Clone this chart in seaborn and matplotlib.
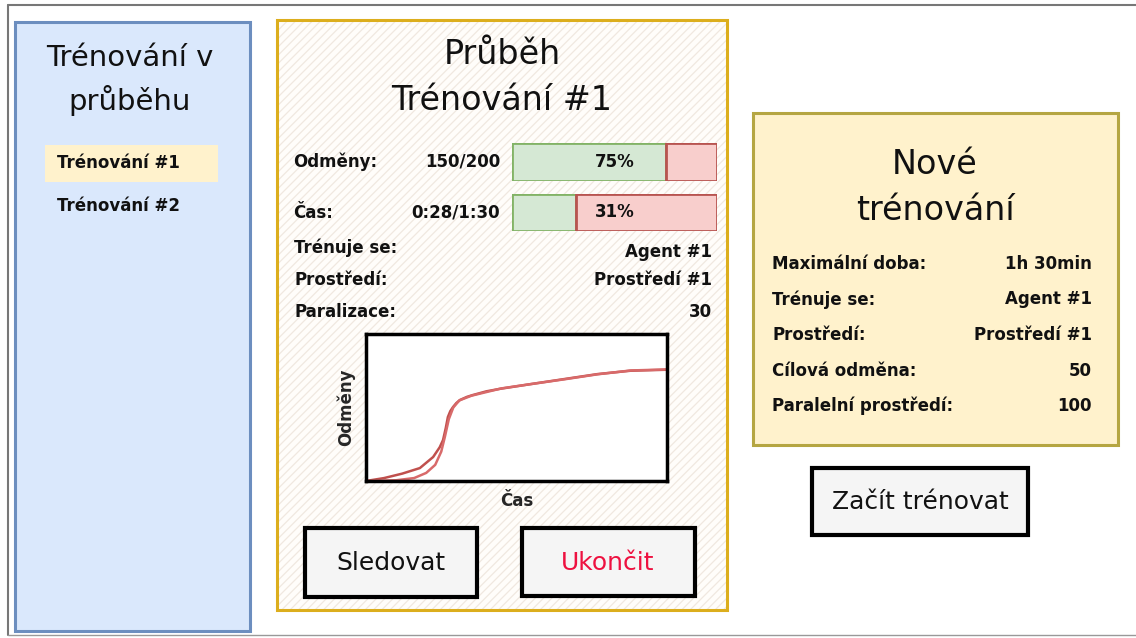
"""
Mockup of the training dashboard (running trainings / progress / new training).
Drawn on a pixel-sized canvas, the reward curve is a seaborn lineplot.
"""
import matplotlib
matplotlib.use("Agg")
import matplotlib.pyplot as plt
from matplotlib.patches import Rectangle
import pandas as pd
import seaborn as sns

W, H = 1136, 638

# --- data read from the mockup ---
running_trainings = ["Trénování #1", "Trénování #2"]
selected_training = "Trénování #1"

progress_labels = ["Odměny:", "Čas:"]
progress_values = ["150/200", "0:28/1:30"]
progress_pct = [75, 31]

run_fields = ["Trénuje se:", "Prostředí:", "Paralizace:"]
run_values = ["Agent #1", "Prostředí #1", "30"]

new_fields = ["Maximální doba:", "Trénuje se:", "Prostředí:", "Cílová odměna:", "Paralelní prostředí:"]
new_values = ["1h 30min", "Agent #1", "Prostředí #1", "50", "100"]

# reward curve (normalised time / reward), two sketchy strokes
curve_time = [0.0, 0.06, 0.12, 0.179, 0.223, 0.245, 0.256, 0.265, 0.272, 0.28, 0.289,
              0.30, 0.312, 0.335, 0.355, 0.40, 0.445, 0.547, 0.657, 0.768, 0.878, 1.0]
curve_reward = [0.0, 0.02, 0.05, 0.088, 0.163, 0.23, 0.279, 0.36, 0.435, 0.475, 0.503,
                0.53, 0.551, 0.572, 0.585, 0.61, 0.627, 0.659, 0.693, 0.727, 0.750, 0.757]
sketch_time = [0.0, 0.10, 0.16, 0.20, 0.23, 0.25, 0.262, 0.275, 0.29, 0.31, 0.35,
               0.45, 0.55, 0.66, 0.77, 0.88, 1.0]
sketch_reward = [0.0, 0.005, 0.02, 0.055, 0.11, 0.20, 0.30, 0.42, 0.50, 0.548, 0.58,
                 0.63, 0.66, 0.692, 0.726, 0.752, 0.759]

sns.set_theme(style="white")
plt.rcParams["font.family"] = ["DejaVu Sans"]
plt.rcParams["hatch.linewidth"] = 0.9

fig = plt.figure(figsize=(W / 100, H / 100), dpi=100)
fig.patch.set_facecolor("white")
bg = fig.add_axes([0, 0, 1, 1])
bg.set_xlim(0, W)
bg.set_ylim(H, 0)
bg.axis("off")


def px_rect(x0, y0, x1, y1):
    """pixel box -> figure fraction rect"""
    return [x0 / W, 1 - y1 / H, (x1 - x0) / W, (y1 - y0) / H]


def box(x0, y0, x1, y1, face, edge, lw=2.0, z=1):
    bg.add_patch(Rectangle((x0, y0), x1 - x0, y1 - y0, facecolor=face,
                           edgecolor=edge, linewidth=lw, zorder=z))


SMALL = dict(fontsize=12, fontweight="bold", color="#111111", va="center")

# outer frame
bg.plot([8, W], [5, 5], color="#777777", lw=1.5)
bg.plot([8, 8], [5, 635], color="#777777", lw=1.5)
bg.plot([8, W], [635, 635], color="#999999", lw=1.0)

# ---- left panel: running trainings ----
box(15, 22, 250, 631, "#dae8fc", "#6c8ebf", lw=2.2)
bg.text(130, 80, "Trénování v\nprůběhu", fontsize=21, ha="center", va="center",
        linespacing=1.5, color="#111111")
for i, name in enumerate(running_trainings):
    y = 163 + i * 43
    if name == selected_training:
        bg.add_patch(Rectangle((45, 145), 173, 37, facecolor="#fff2cc",
                               edgecolor="none", zorder=2))
    bg.text(57, y, name, ha="left", zorder=3, **SMALL)

# ---- centre panel: progress of training #1 ----
box(277, 20, 727, 610, "#fffdfa", "none", lw=0)
bg.add_patch(Rectangle((277, 20), 450, 590, facecolor="none", edgecolor="#f0e8e0",
                       linewidth=0, hatch="////", zorder=1.5))
box(277, 20, 727, 610, "none", "#dcae1d", lw=2.2, z=2)
bg.text(502, 78, "Průběh\nTrénování #1", fontsize=24, ha="center", va="center",
        linespacing=1.5, color="#111111", zorder=3)

bar_rows = [(143, 181), (194, 231)]
for (label, value, pct, (y0, y1)) in zip(progress_labels, progress_values, progress_pct, bar_rows):
    ym = (y0 + y1) / 2
    bg.text(293, ym, label, ha="left", zorder=3, **SMALL)
    bg.text(500, ym, value, ha="right", zorder=3, **SMALL)
    ax = fig.add_axes(px_rect(512, y0, 717, y1))
    ax.barh([0], [pct], height=1, color="#d5e8d4", edgecolor="#82b366", linewidth=2)
    ax.barh([0], [100 - pct], left=[pct], height=1, color="#f8cecc",
            edgecolor="#b85450", linewidth=2)
    ax.set_xlim(0, 100)
    ax.set_ylim(-0.5, 0.5)
    ax.axis("off")
    ax.text(50, 0, f"{pct}%", ha="center", va="center", fontsize=12,
            fontweight="bold", color="#111111")

for i, (field, value) in enumerate(zip(run_fields, run_values)):
    y = 248 + i * 32
    bg.text(294, y, field, ha="left", zorder=3, **SMALL)
    bg.text(712, y + (4 if i == 0 else 0), value, ha="right", zorder=3, **SMALL)

# reward chart
cax = fig.add_axes(px_rect(366, 334, 667, 481))
df = pd.concat([
    pd.DataFrame({"Čas": curve_time, "Odměny": curve_reward, "tah": "a"}),
    pd.DataFrame({"Čas": sketch_time, "Odměny": sketch_reward, "tah": "b"}),
])
sns.lineplot(data=df, x="Čas", y="Odměny", hue="tah", palette=["#c0504d", "#d86a6a"],
             estimator=None, sort=False, legend=False, linewidth=1.8, ax=cax)
cax.set_xlim(0, 1)
cax.set_ylim(0, 1)
cax.set_xticks([])
cax.set_yticks([])
cax.set_facecolor("white")
for sp in cax.spines.values():
    sp.set_visible(True)
    sp.set_color("black")
    sp.set_linewidth(2.5)
cax.set_xlabel("Čas", fontsize=12, fontweight="bold", labelpad=8)
cax.set_ylabel("Odměny", fontsize=12, fontweight="bold", labelpad=8)

# buttons
box(305, 528, 477, 597, "#f5f5f5", "black", lw=3, z=3)
bg.text(391, 563, "Sledovat", fontsize=18, ha="center", va="center", color="#111111", zorder=4)
box(522, 528, 695, 596, "#f5f5f5", "black", lw=3, z=3)
bg.text(608, 563, "Ukončit", fontsize=18, ha="center", va="center", color="#ee1140", zorder=4)

# ---- right panel: new training ----
box(753, 113, 1118, 445, "#fff2cc", "#b5a642", lw=2.2)
bg.text(935, 188, "Nové\ntrénování", fontsize=24, ha="center", va="center",
        linespacing=1.5, color="#111111")
for i, (field, value) in enumerate(zip(new_fields, new_values)):
    y = 264 + i * 35.5
    bg.text(772, y, field, ha="left", **SMALL)
    bg.text(1092, y, value, ha="right", **SMALL)

box(812, 468, 1028, 535, "#f5f5f5", "black", lw=3, z=3)
bg.text(920, 502, "Začít trénovat", fontsize=18, ha="center", va="center",
        color="#111111", zorder=4)

fig.savefig("out.png", dpi=100)
plt.close(fig)
